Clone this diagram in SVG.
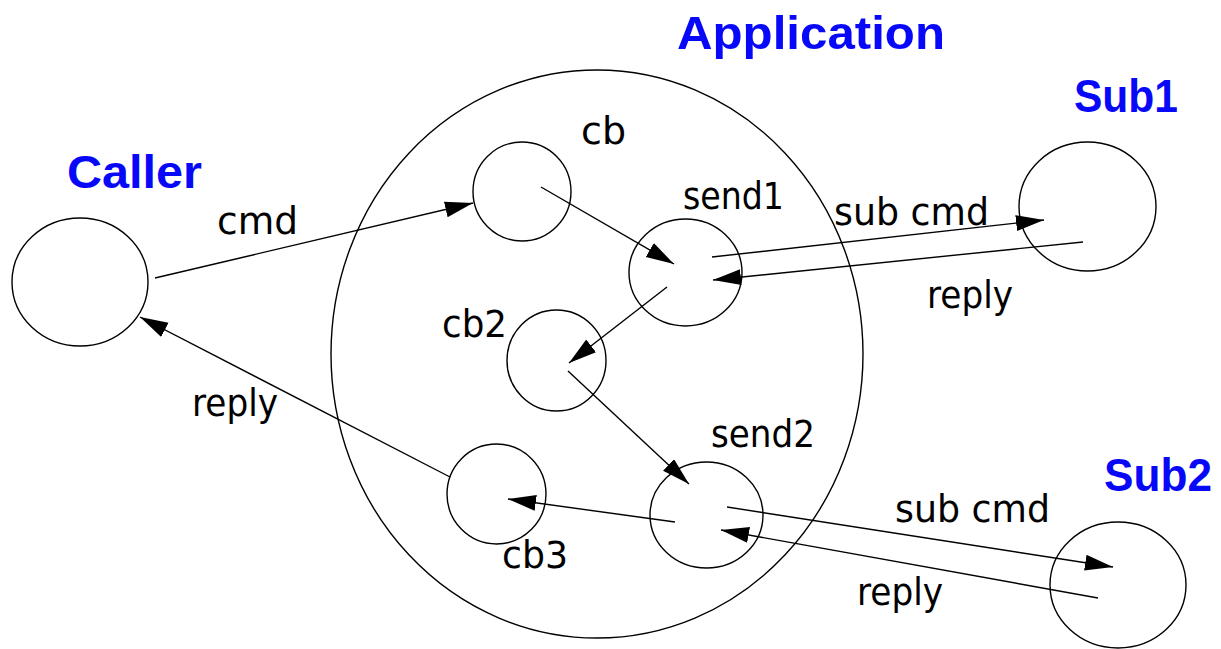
<svg xmlns="http://www.w3.org/2000/svg" width="1221" height="649" viewBox="0 0 1221 649">
  <defs>
    <marker id="arrow" markerUnits="userSpaceOnUse" markerWidth="30" markerHeight="18" refX="28" refY="8" orient="auto">
      <path d="M0,0 L28,8 L0,16 z" fill="#000"/>
    </marker>
    <style>
      .node { fill: none; stroke: #000; stroke-width: 1.4; }
      .edge { fill: none; stroke: #000; stroke-width: 1.4; marker-end: url(#arrow); }
      .label { font-family: "DejaVu Sans", "Liberation Sans", sans-serif; font-size: 37px; fill: #000; }
      .title { font-family: "Liberation Sans", Arial, sans-serif; font-weight: bold; font-size: 47px; fill: #0808f8; }
    </style>
  </defs>
  <rect width="1221" height="649" fill="#fff"/>

  <!-- application boundary -->
  <g id="application">
    <ellipse class="node" cx="597" cy="354" rx="266" ry="284"/>
    <text class="title" x="677" y="49" textLength="268" lengthAdjust="spacingAndGlyphs">Application</text>
  </g>

  <g id="caller">
    <ellipse class="node" cx="80" cy="282" rx="68" ry="64"/>
    <text class="title" x="67" y="188" textLength="135" lengthAdjust="spacingAndGlyphs">Caller</text>
  </g>

  <g id="cb">
    <ellipse class="node" cx="522" cy="191.5" rx="49" ry="49.5"/>
    <text class="label" x="581" y="144" textLength="45" lengthAdjust="spacingAndGlyphs">cb</text>
  </g>

  <g id="send1">
    <ellipse class="node" cx="685.5" cy="272.5" rx="56.5" ry="53.5"/>
    <text class="label" x="683" y="209" textLength="101" lengthAdjust="spacingAndGlyphs">send1</text>
  </g>

  <g id="cb2">
    <ellipse class="node" cx="556.5" cy="360.5" rx="49.5" ry="50.5"/>
    <text class="label" x="442" y="337" textLength="65" lengthAdjust="spacingAndGlyphs">cb2</text>
  </g>

  <g id="send2">
    <ellipse class="node" cx="706.5" cy="515" rx="56.5" ry="53"/>
    <text class="label" x="711" y="447" textLength="104" lengthAdjust="spacingAndGlyphs">send2</text>
  </g>

  <g id="cb3">
    <ellipse class="node" cx="496.5" cy="494" rx="49.5" ry="50"/>
    <text class="label" x="502" y="568" textLength="66" lengthAdjust="spacingAndGlyphs">cb3</text>
  </g>

  <g id="sub1">
    <ellipse class="node" cx="1087.5" cy="206.5" rx="68.5" ry="64.5"/>
    <text class="title" x="1074" y="112" textLength="104" lengthAdjust="spacingAndGlyphs">Sub1</text>
  </g>

  <g id="sub2">
    <ellipse class="node" cx="1118" cy="585" rx="68" ry="63"/>
    <text class="title" x="1104" y="491" textLength="108" lengthAdjust="spacingAndGlyphs">Sub2</text>
  </g>

  <!-- message flows -->
  <g id="connectors">
    <line class="edge" x1="155" y1="278" x2="473" y2="203"/>
    <line class="edge" x1="541" y1="187" x2="674" y2="264"/>
    <line class="edge" x1="667" y1="287" x2="569" y2="363"/>
    <line class="edge" x1="568" y1="371" x2="689" y2="484"/>
    <line class="edge" x1="675" y1="522" x2="508" y2="499"/>
    <line class="edge" x1="450" y1="477" x2="140" y2="317"/>
    <line class="edge" x1="712" y1="257" x2="1044" y2="220"/>
    <line class="edge" x1="1083" y1="242" x2="713" y2="280"/>
    <line class="edge" x1="727" y1="507" x2="1113" y2="567"/>
    <line class="edge" x1="1098" y1="598" x2="721" y2="530"/>

    <text class="label" x="217" y="234" textLength="81" lengthAdjust="spacingAndGlyphs">cmd</text>
    <text class="label" x="192" y="416" textLength="86" lengthAdjust="spacingAndGlyphs">reply</text>
    <text class="label" x="834" y="225" textLength="155" lengthAdjust="spacingAndGlyphs">sub cmd</text>
    <text class="label" x="927" y="308" textLength="86" lengthAdjust="spacingAndGlyphs">reply</text>
    <text class="label" x="895" y="522" textLength="155" lengthAdjust="spacingAndGlyphs">sub cmd</text>
    <text class="label" x="857" y="605" textLength="86" lengthAdjust="spacingAndGlyphs">reply</text>
  </g>
</svg>
